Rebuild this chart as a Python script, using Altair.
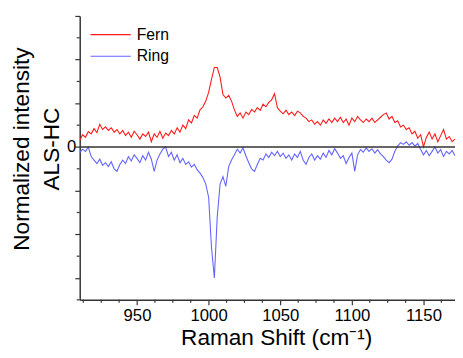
import altair as alt
import pandas as pd

# ---------------- data ----------------
x_start = 910
x_step = 2

fern = [0.15, 0.28, 0.22, 0.35, 0.30, 0.42, 0.33, 0.52, 0.40, 0.46,
        0.38, 0.44, 0.34, 0.40, 0.30, 0.38, 0.26, 0.34, 0.22, 0.36,
        0.28, 0.18, 0.30, 0.24, 0.34, 0.12, 0.30, 0.22, 0.36, 0.20,
        0.32, 0.26, 0.38, 0.30, 0.44, 0.34, 0.50, 0.42, 0.62, 0.55,
        0.72, 0.66, 0.85, 0.92, 1.05, 1.25, 1.55, 1.82, 1.82, 1.60,
        1.20, 1.12, 1.18, 1.05, 0.85, 0.70, 0.78, 0.66, 0.80, 0.74,
        0.86, 0.80, 0.90, 0.84, 0.98, 0.92, 1.02, 1.08, 1.22, 0.90,
        0.82, 0.76, 0.84, 0.74, 0.80, 0.72, 0.82, 0.78, 0.70, 0.66,
        0.58, 0.62, 0.52, 0.58, 0.50, 0.62, 0.54, 0.64, 0.56, 0.66,
        0.58, 0.68, 0.56, 0.64, 0.50, 0.66, 0.58, 0.70, 0.62, 0.56,
        0.64, 0.58, 0.66, 0.56, 0.62, 0.68, 0.74, 0.78, 0.64, 0.70,
        0.56, 0.60, 0.46, 0.50, 0.40, 0.44, 0.30, 0.36, 0.20, 0.28,
        0.00, 0.22, 0.34, 0.18, 0.30, 0.12, 0.26, 0.40, 0.18, 0.24,
        0.12, 0.18]

ring = [-0.13, -0.05, -0.10, 0.00, -0.22, -0.30, -0.38, -0.28, -0.42, -0.36,
        -0.45, -0.34, -0.50, -0.56, -0.40, -0.30, -0.38, -0.22, -0.32, -0.18,
        -0.26, -0.36, -0.20, -0.30, -0.12, -0.28, -0.56, -0.30, -0.16, -0.05,
        0.00, -0.22, -0.12, -0.30, -0.18, -0.36, -0.26, -0.40, -0.34, -0.46,
        -0.40, -0.52, -0.60, -0.70, -0.85, -1.15, -2.30, -3.00, -1.60, -0.85,
        -0.68, -0.90, -0.45, -0.30, -0.18, -0.05, -0.14, -0.02, -0.20, -0.36,
        -0.50, -0.56, -0.40, -0.26, -0.30, -0.16, -0.24, -0.12, -0.20, -0.10,
        -0.22, -0.14, -0.26, -0.18, -0.30, -0.16, -0.24, -0.10, -0.30, -0.40,
        -0.24, -0.16, -0.30, -0.20, -0.28, -0.14, -0.24, -0.08, -0.18, -0.04,
        -0.14, -0.26, -0.20, -0.38, -0.24, -0.14, -0.56, -0.18, -0.06, -0.12,
        -0.02, -0.10, -0.04, -0.14, -0.06, -0.16, -0.22, -0.30, -0.36, -0.28,
        -0.10, 0.02, 0.10, 0.06, 0.12, 0.04, 0.10, 0.02, 0.08, -0.06,
        -0.18, -0.08, -0.20, -0.10, 0.00, -0.14, -0.06, -0.22, -0.10, -0.16,
        -0.08, -0.20]

series_names = ["Fern", "Ring"]
series_colors = ["#ff1a1a", "#6464ff"]

x_domain = [910, 1172]
y_domain = [-3.5, 3.0]
x_major = [950, 1000, 1050, 1100, 1150]
x_minor = [912.5, 925, 937.5, 962.5, 975, 987.5, 1012.5, 1025, 1037.5,
           1062.5, 1075, 1087.5, 1112.5, 1125, 1137.5, 1162.5]
y_major = [-3, -2, -1, 0, 1, 2, 3]
y_minor = [-3.5, -2.5, -1.5, -0.5, 0.5, 1.5, 2.5]

x_title = "Raman Shift (cm⁻¹)"
y_title = ["Normalized intensity", "ALS-HC"]

# ---------------- build tables ----------------
x_vals = [x_start + i * x_step for i in range(len(fern))]
df = pd.DataFrame({
    "shift": x_vals + x_vals,
    "intensity": fern + ring,
    "series": ["Fern"] * len(fern) + ["Ring"] * len(ring),
})
zero_df = pd.DataFrame({"intensity": [0.0]})
ymin_df = pd.DataFrame({"intensity": y_minor})
xmin_df = pd.DataFrame({"shift": x_minor})

FONT = "Liberation Sans"
AX = "#333333"

xscale = alt.Scale(domain=x_domain, nice=False, zero=False)
yscale = alt.Scale(domain=y_domain, nice=False, zero=False)


def x_enc():
    return alt.X("shift:Q", scale=xscale,
                 axis=alt.Axis(values=x_major, title=x_title, format="d",
                               tickSize=5, labelPadding=3, titlePadding=3,
                               titleX=200))


def y_enc():
    return alt.Y("intensity:Q", scale=yscale,
                 axis=alt.Axis(values=y_major, title=y_title,
                               labelExpr="datum.value == 0 ? '0' : ''",
                               tickSize=5, labelPadding=-1,
                               titleX=-47, titleY=135, titleAngle=270,
                               titleBaseline="bottom", titleAlign="center",
                               titleLineHeight=30))


lines = alt.Chart(df).mark_line(strokeWidth=1.1, clip=True).encode(
    x=x_enc(),
    y=y_enc(),
    color=alt.Color("series:N",
                    scale=alt.Scale(domain=series_names, range=series_colors),
                    legend=alt.Legend(title=None, orient="none", legendX=10, legendY=8,
                                      symbolType="stroke", symbolSize=1681,
                                      symbolStrokeWidth=1.2, labelFontSize=16,
                                      labelFont=FONT, labelColor="black",
                                      labelOffset=5, clipHeight=22, rowPadding=0,
                                      padding=0)),
)

zero = alt.Chart(zero_df).mark_rule(color=AX, strokeWidth=1.5).encode(y=y_enc())

ymin = alt.Chart(ymin_df).mark_rule(color=AX, strokeWidth=1.2).encode(
    y=y_enc(), x=alt.value(-3), x2=alt.value(0),
)

xmin = alt.Chart(xmin_df).mark_rule(color=AX, strokeWidth=1.2).encode(
    x=x_enc(), y=alt.value(289), y2=alt.value(292),
)

chart = alt.layer(lines, zero, ymin, xmin).properties(
    width=382, height=289,
    autosize=alt.AutoSizeParams(type="none"),
    padding={"left": 73, "top": 5, "right": 0, "bottom": 50},
).configure_view(stroke=None).configure_axis(
    grid=False, domainColor=AX, domainWidth=1.5, tickColor=AX, tickWidth=1.2,
    labelFont=FONT, labelFontSize=17, labelColor="black",
    titleFont=FONT, titleFontSize=23, titleFontWeight="normal", titleColor="black",
)

chart.save("out.html", embed_options={"renderer": "svg", "actions": False})
